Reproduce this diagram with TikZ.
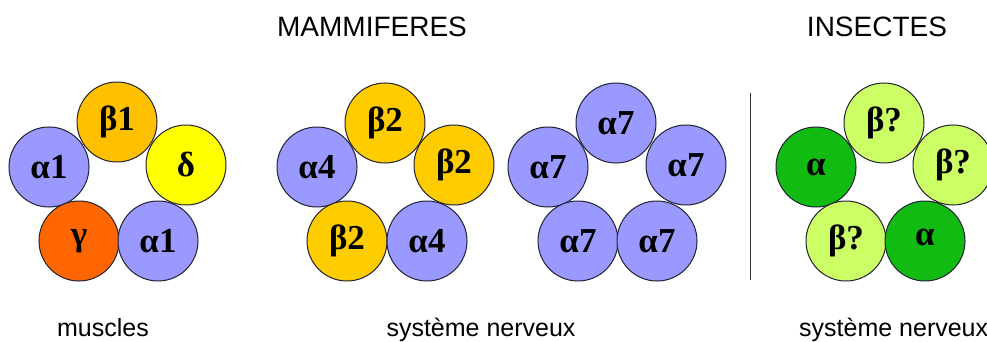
\documentclass[tikz,border=0pt]{standalone}
\usepackage{fontspec}
\setmainfont{Liberation Serif}
\newfontfamily\labelfont{Liberation Sans}
\definecolor{lav}{HTML}{9999FF}
\definecolor{gold}{HTML}{FFCC00}
\definecolor{goldb}{HTML}{FFC000}
\definecolor{yel}{HTML}{FFFF00}
\definecolor{org}{HTML}{FF6600}
\definecolor{grn}{HTML}{11BB11}
\definecolor{lgrn}{HTML}{CCFF66}
\definecolor{rim}{HTML}{222233}
\tikzset{
  sub/.style={circle, draw=rim, line width=1pt, minimum size=80pt, inner sep=0pt,
    font=\fontsize{35}{35}\selectfont\bfseries},
  title/.style={font=\labelfont\fontsize{28}{28}\selectfont, anchor=base, inner sep=0pt},
  caption/.style={font=\labelfont\fontsize{25}{25}\selectfont, anchor=base, inner sep=0pt},
}
\begin{document}
\begin{tikzpicture}[x=1pt,y=-1pt]
\useasboundingbox[fill=white] (0,0) rectangle (987,342);
% titles
\node[title] (tm) at (372,37) {MAMMIFERES};
\node[title] (ti) at (877,37) {INSECTES};
% group 1 : muscles
\node[sub, fill=goldb] (g1a) at (117,122) {β1};
\node[sub, fill=lav] (g1b) at (49,167) {α1};
\node[sub, fill=yel] (g1c) at (186,165) {δ};
\node[sub, fill=org] (g1d) at (79,241) {γ};
\node[sub, fill=lav] (g1e) at (158,241) {α1};
% group 2
\node[sub, fill=gold] (g2a) at (385,123) {β2};
\node[sub, fill=lav] (g2b) at (317,167) {α4};
\node[sub, fill=gold] (g2c) at (454,165) {β2};
\node[sub, fill=gold] (g2d) at (347,241) {β2};
\node[sub, fill=lav] (g2e) at (427,241) {α4};
% group 3
\node[sub, fill=lav] (g3a) at (616,123) {α7};
\node[sub, fill=lav] (g3b) at (548,167) {α7};
\node[sub, fill=lav] (g3c) at (686,165) {α7};
\node[sub, fill=lav] (g3d) at (578,241) {α7};
\node[sub, fill=lav] (g3e) at (657,241) {α7};
% separator
\coordinate (s1) at (750,93);
\coordinate (s2) at (750,280);
\draw[line width=1pt, black!80] (s1) -- (s2);
% group 4 : insects
\node[sub, fill=lgrn] (g4a) at (884,123) {β?};
\node[sub, fill=grn] (g4b) at (816,167) {α};
\node[sub, fill=lgrn] (g4c) at (953,165) {β?};
\node[sub, fill=lgrn] (g4d) at (846,241) {β?};
\node[sub, fill=grn] (g4e) at (925,241) {\raisebox{8pt}{α}};
% captions
\node[caption] (c1) at (103,336) {muscles};
\node[caption] (c2) at (481,336) {système nerveux};
\node[caption, anchor=base west] (c3) at (799,336) {système nerveux};
\end{tikzpicture}
\end{document}
